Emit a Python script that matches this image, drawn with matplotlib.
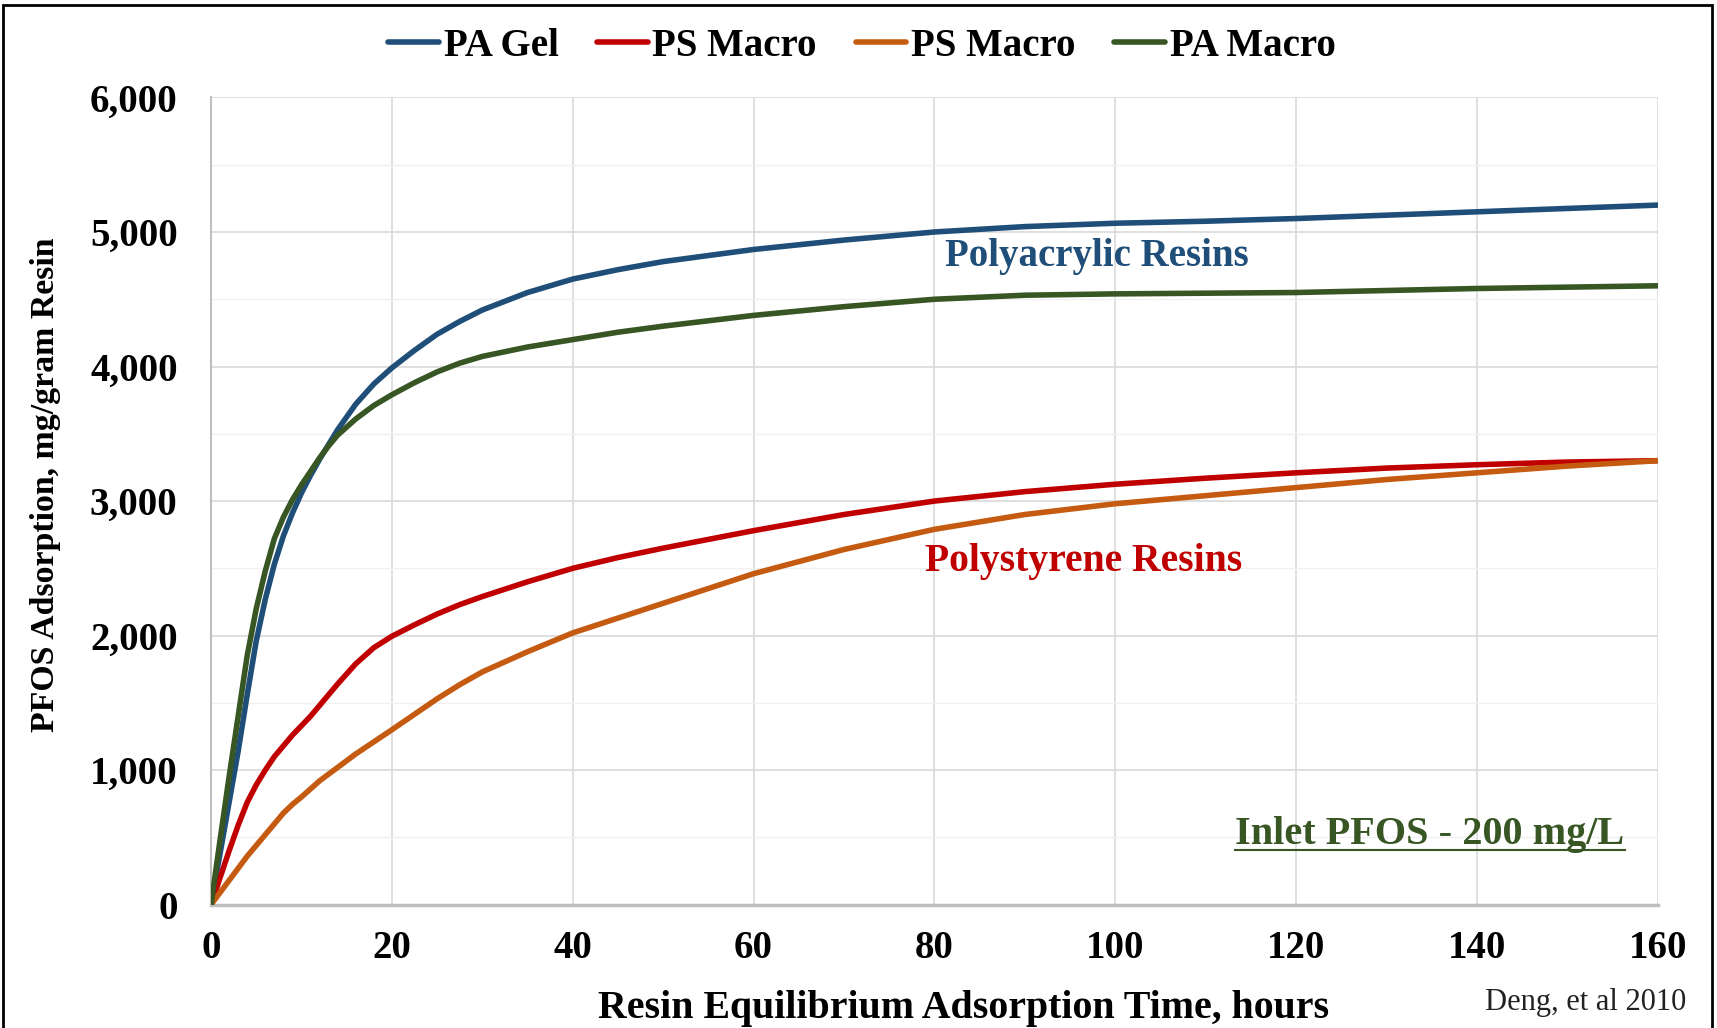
import matplotlib
matplotlib.use("Agg")
import matplotlib.pyplot as plt
from matplotlib.ticker import MultipleLocator, FuncFormatter
from matplotlib.patches import Rectangle

plt.rcParams['font.family'] = ['Liberation Serif', 'DejaVu Serif']

hours = [0, 1, 2, 3, 4, 5, 6, 7, 8, 9, 10, 11, 12, 13, 14, 16, 18, 20, 22.5, 25, 27.5, 30,
         35, 40, 45, 50, 60, 70, 80, 90, 100, 110, 120, 130, 140, 150, 160]
pa_gel = [0, 380, 760, 1140, 1560, 1960, 2270, 2530, 2740, 2910, 3060, 3190, 3310, 3420, 3530,
          3720, 3870, 3990, 4120, 4240, 4335, 4420, 4550, 4650, 4720, 4780,
          4870, 4940, 5000, 5040, 5065, 5080, 5100, 5125, 5150, 5175, 5200]
ps_macro_1 = [0, 200, 400, 590, 760, 890, 1000, 1100, 1180, 1260, 1330, 1400, 1480, 1560, 1640,
              1790, 1910, 1995, 2080, 2160, 2230, 2290, 2400, 2500, 2580, 2650,
              2780, 2900, 3000, 3070, 3125, 3170, 3210, 3245, 3270, 3290, 3300]
ps_macro_2 = [0, 90, 180, 270, 360, 440, 520, 600, 680, 745, 800, 860, 920, 970, 1020,
              1120, 1210, 1300, 1415, 1530, 1635, 1730, 1880, 2020, 2130, 2240,
              2460, 2640, 2790, 2900, 2980, 3040, 3100, 3160, 3210, 3260, 3300]
pa_macro = [0, 480, 950, 1400, 1850, 2200, 2480, 2720, 2880, 3010, 3120, 3220, 3320, 3410, 3490,
            3610, 3710, 3790, 3880, 3960, 4025, 4075, 4145, 4200, 4255, 4300,
            4380, 4445, 4500, 4530, 4540, 4545, 4550, 4565, 4580, 4590, 4600]

series_names = ["PA Gel", "PS Macro", "PS Macro", "PA Macro"]
series_colors = ["#1F4E79", "#C00000", "#C55A11", "#375623"]

fig = plt.figure(figsize=(17.17, 10.28), dpi=100)
ax = fig.add_axes([0.1229, 0.120, 0.9656 - 0.1229, 0.9052 - 0.120])

for ys, name, col in zip([pa_gel, ps_macro_1, ps_macro_2, pa_macro], series_names, series_colors):
    ax.plot(hours, ys, color=col, lw=4.0, label=name, solid_joinstyle='round',
            solid_capstyle='round', zorder=3)

ax.set_xlim(0, 160)
ax.set_ylim(0, 6000)
ax.xaxis.set_major_locator(MultipleLocator(20))
ax.yaxis.set_major_locator(MultipleLocator(1000))
ax.yaxis.set_minor_locator(MultipleLocator(500))
ax.yaxis.set_major_formatter(FuncFormatter(lambda v, p: f"{int(v):,}"))
ax.grid(axis='x', which='major', color='#D9D9D9', lw=1.2, zorder=0)
ax.grid(axis='y', which='major', color='#D9D9D9', lw=1.2, zorder=0)
ax.grid(axis='y', which='minor', color='#F0F0F0', lw=1.0, zorder=0)
ax.set_axisbelow(True)
for s in ['top', 'right']:
    ax.spines[s].set_visible(False)
ax.spines['left'].set_color('#BFBFBF')
ax.spines['left'].set_linewidth(1.5)
ax.spines['bottom'].set_color('#BFBFBF')
ax.spines['bottom'].set_linewidth(2.5)
ax.tick_params(which='both', length=0)
ax.tick_params(axis='x', pad=18, labelsize=28)
ax.tick_params(axis='y', pad=24, labelsize=28)
for lab in ax.get_xticklabels() + ax.get_yticklabels():
    lab.set_fontweight('bold')

fig.text(0.5614, 0.0185, "Resin Equilibrium Adsorption Time, hours", fontsize=28.7,
         fontweight='bold', ha='center', va='center')
fig.text(0.0265, 0.528, "PFOS Adsorption, mg/gram Resin", fontsize=24.4, fontweight='bold',
         rotation=90, ha='center', va='center')

ax.text(98, 4820, "Polyacrylic Resins", color="#1F4E79", fontsize=28, fontweight='bold',
        ha='center', va='center')
ax.text(96.5, 2550, "Polystyrene Resins", color="#C00000", fontsize=28.5, fontweight='bold',
        ha='center', va='center')
t = ax.text(134.8, 520, "Inlet PFOS - 200 mg/L", color="#375623", fontsize=29, fontweight='bold',
            ha='center', va='center')
fig.canvas.draw()
bb = t.get_window_extent()
inv = fig.transFigure.inverted()
x0, y0 = inv.transform((bb.x0, bb.y0 + 3))
x1, _ = inv.transform((bb.x1, bb.y0 + 3))
fig.add_artist(plt.Line2D([x0, x1], [y0, y0], color="#375623", lw=1.5))

fig.text(0.982, 0.025, "Deng, et al 2010", fontsize=22, ha='right', va='center', color='#222222')

fig.legend(loc='center', bbox_to_anchor=(0.502, 0.955), ncol=4, frameon=False,
           prop={'family': ['Liberation Serif'], 'weight': 'bold', 'size': 28},
           handlelength=1.3, handletextpad=0.12, columnspacing=1.0)

fig.add_artist(Rectangle((3 / 1717, -0.05), (1712 - 3) / 1717, 1.05 - 5 / 1028,
                         transform=fig.transFigure, fill=False, ec='black', lw=2))

fig.savefig("out.png", dpi=100)
